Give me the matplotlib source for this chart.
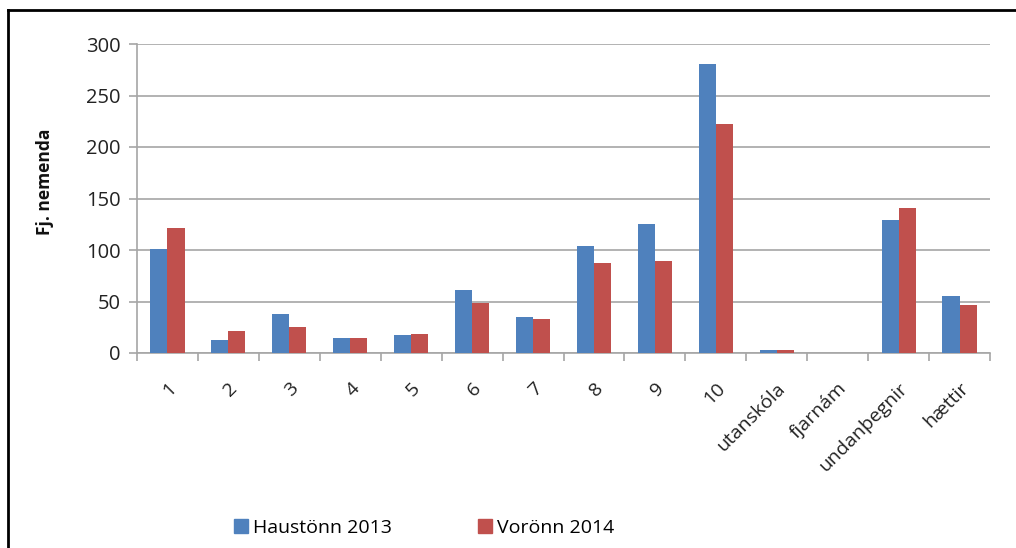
import matplotlib
matplotlib.use("Agg")
import matplotlib.pyplot as plt
from matplotlib.lines import Line2D
import numpy as np

categories = ["1", "2", "3", "4", "5", "6", "7", "8", "9", "10",
              "utanskóla", "fjarnám", "undanþegnir", "hættir"]
haust_2013 = [101, 13, 38, 15, 17, 61, 35, 104, 125, 281, 3, 0, 129, 55]
vor_2014 = [121, 21, 25, 15, 18, 49, 33, 87, 89, 222, 3, 0, 141, 47]
series_names = ["Haustönn 2013", "Vorönn 2014"]

BLUE = "#4F81BD"
RED = "#C0504D"
GRID = "#A6A6A6"

plt.rcParams["font.family"] = ["Open Sans", "DejaVu Sans"]

fig = plt.figure(figsize=(10.16, 5.48), dpi=100)
ax = fig.add_axes([137 / 1016, 1 - 353 / 548, (990 - 137) / 1016, (353 - 44) / 548])

x = np.arange(len(categories))
w = 0.28
ax.bar(x - w / 2, haust_2013, w, color=BLUE, label=series_names[0], zorder=3)
ax.bar(x + w / 2, vor_2014, w, color=RED, label=series_names[1], zorder=3)

ax.set_xlim(-0.5, len(categories) - 0.5)
ax.set_ylim(0, 300)
ax.set_yticks(range(0, 301, 50))
ax.yaxis.grid(True, color=GRID, linewidth=1.2, zorder=0)

# tick marks sit on the category boundaries, labels in the middle
ax.set_xticks(np.arange(-0.5, len(categories), 1.0))
ax.set_xticklabels([])
ax.set_xticks(x, minor=True)
ax.set_xticklabels(categories, minor=True, rotation=45, ha="right",
                   rotation_mode="anchor", fontsize=14, color="#222222")
ax.tick_params(axis="x", which="minor", length=0, pad=19)
ax.tick_params(axis="x", which="major", length=6, width=1.2, color=GRID)
ax.tick_params(axis="y", length=6, width=1.2, color=GRID, labelsize=14.5,
               labelcolor="#222222", pad=6)

for side in ["top", "right"]:
    ax.spines[side].set_visible(False)
for side in ["left", "bottom"]:
    ax.spines[side].set_color(GRID)
    ax.spines[side].set_linewidth(1.2)

fig.text(45 / 1016, 1 - 182 / 548, "Fj. nemenda", rotation=90, ha="center",
         va="center", fontsize=12.5, fontweight="bold", color="#111111")

handles = [Line2D([], [], marker="s", linestyle="", markersize=10,
                  markerfacecolor=c, markeredgecolor=c) for c in (BLUE, RED)]
fig.legend(handles, series_names, loc="center", ncol=2,
           bbox_to_anchor=(423 / 1016, 1 - 528 / 548), frameon=False,
           fontsize=14, handletextpad=0.1, columnspacing=4.3,
           handlelength=1.0)

# outer frame: only top and left edges are visible in the original
fig.add_artist(Line2D([8 / 1016, 8 / 1016], [0, 1 - 10 / 548],
                      transform=fig.transFigure, color="black", linewidth=2))
fig.add_artist(Line2D([8 / 1016, 1], [1 - 10 / 548, 1 - 10 / 548],
                      transform=fig.transFigure, color="black", linewidth=2))

fig.savefig("out.png", dpi=100, facecolor="white")
